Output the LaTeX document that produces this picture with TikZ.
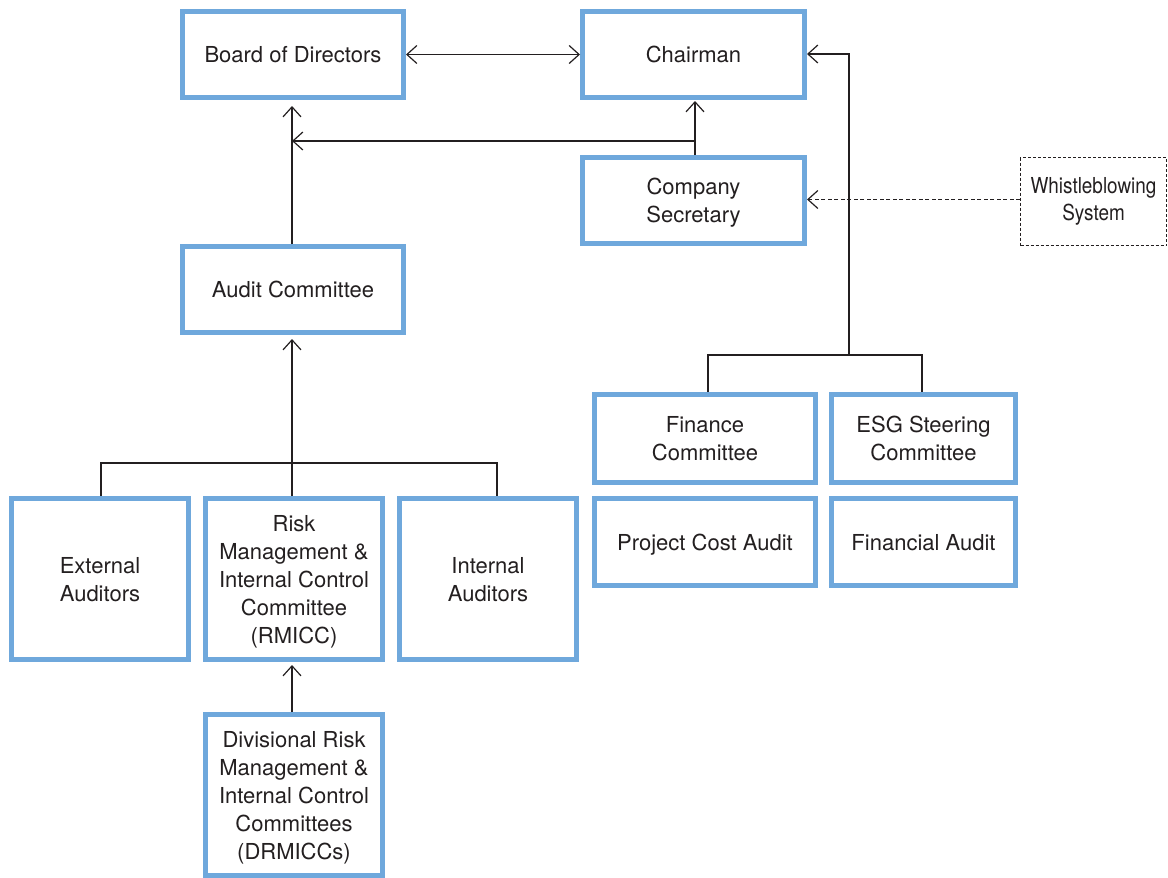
\documentclass[tikz,border=0pt]{standalone}
\usepackage{fontspec}
\setmainfont{TeX Gyre Heros}
\newfontfamily\condfont[FakeStretch=0.86]{TeX Gyre Heros}
\usetikzlibrary{arrows.meta}
\definecolor{boxblue}{RGB}{111,168,220}
\definecolor{ink}{RGB}{35,31,32}
\tikzset{
  bx/.style={draw=boxblue, line width=5pt, outer sep=2.5pt, inner sep=0pt, fill=white,
    align=center, text=ink, text depth=0pt, font=\fontsize{22}{28}\selectfont},
  wbx/.style={draw=ink, line width=1pt, dashed, dash pattern=on 3pt off 2pt, outer sep=0.5pt,
    inner sep=0pt, align=center, text=ink, font=\condfont\fontsize{22}{27}\selectfont},
  conn/.style={draw=ink, line width=1.2pt},
  arr/.style={conn, -{Straight Barb[length=10pt,width=18pt,line width=1.2pt]}},
  darr/.style={conn, {Straight Barb[length=10pt,width=18pt,line width=1.2pt]}-{Straight Barb[length=10pt,width=18pt,line width=1.2pt]}},
}
\begin{document}
\begin{tikzpicture}[x=1pt,y=-1pt]
\useasboundingbox (0,0) rectangle (1168,878);
% boxes
\node[bx, minimum width=221, minimum height=86] (bod) at (293,54.5) {Board of Directors};
\node[bx, minimum width=222, minimum height=86] (ch) at (693.5,54.5) {Chairman};
\node[bx, minimum width=222, minimum height=86] (cs) at (693.5,200.5) {Company\\Secretary};
\node[bx, minimum width=221, minimum height=86] (aud) at (293,289.5) {Audit Committee};
\node[bx, minimum width=177, minimum height=161] (ext) at (100,579) {External\\Auditors};
\node[bx, minimum width=177, minimum height=161] (rm) at (294,579) {Risk\\Management \&\\Internal Control\\Committee\\(RMICC)};
\node[bx, minimum width=177, minimum height=161] (int) at (488,579) {Internal\\Auditors};
\node[bx, minimum width=177, minimum height=161] (dr) at (294,795) {Divisional Risk\\Management \&\\Internal Control\\Committees\\(DRMICCs)};
\node[bx, minimum width=221, minimum height=88] (fin) at (705,438.5) {Finance\\Committee};
\node[bx, minimum width=184, minimum height=88] (esg) at (923.5,438.5) {ESG Steering\\Committee};
\node[bx, minimum width=221, minimum height=87] (pca) at (705,542) {Project Cost Audit};
\node[bx, minimum width=184, minimum height=87] (fa) at (923.5,542) {Financial Audit};
\node[wbx, minimum width=146, minimum height=88] (wb) at (1093.5,201.5) {Whistleblowing\\System};
% connectors
\draw[darr] (bod.east) -- (ch.west);
\draw[arr, shorten >=6pt] ([xshift=-1]aud.north) -- ([xshift=-1]bod.south);
\draw[arr, shorten >=1pt] ([xshift=1.5]cs.north) -- ([xshift=1.5]ch.south);
\coordinate (j1) at ([xshift=1.5]cs.north |- 0,141);
\coordinate (bodb) at ([xshift=-1]bod.south);
\draw[arr] (j1) -- (j1 -| bodb);
\coordinate (wbw) at ([yshift=2]wb.west);
\draw[arr, dashed, dash pattern=on 4pt off 2.5pt] (wbw) -- (wbw -| cs.east);
\coordinate (rt) at (849,355);
\draw[conn] ([xshift=3]fin.north) |- (rt) -| ([xshift=-1.5]esg.north);
\draw[arr] (rt) |- ([yshift=0.5]ch.east);
\coordinate (j2) at (292,463);
\draw[conn] ([xshift=1]ext.north) |- (j2) -| ([xshift=9]int.north);
\draw[arr, shorten >=4pt] ([xshift=-2]rm.north) -- ([xshift=-1]aud.south);
\draw[arr, shorten >=3pt] ([xshift=-2]dr.north) -- ([xshift=-2]rm.south);
\end{tikzpicture}
\end{document}
